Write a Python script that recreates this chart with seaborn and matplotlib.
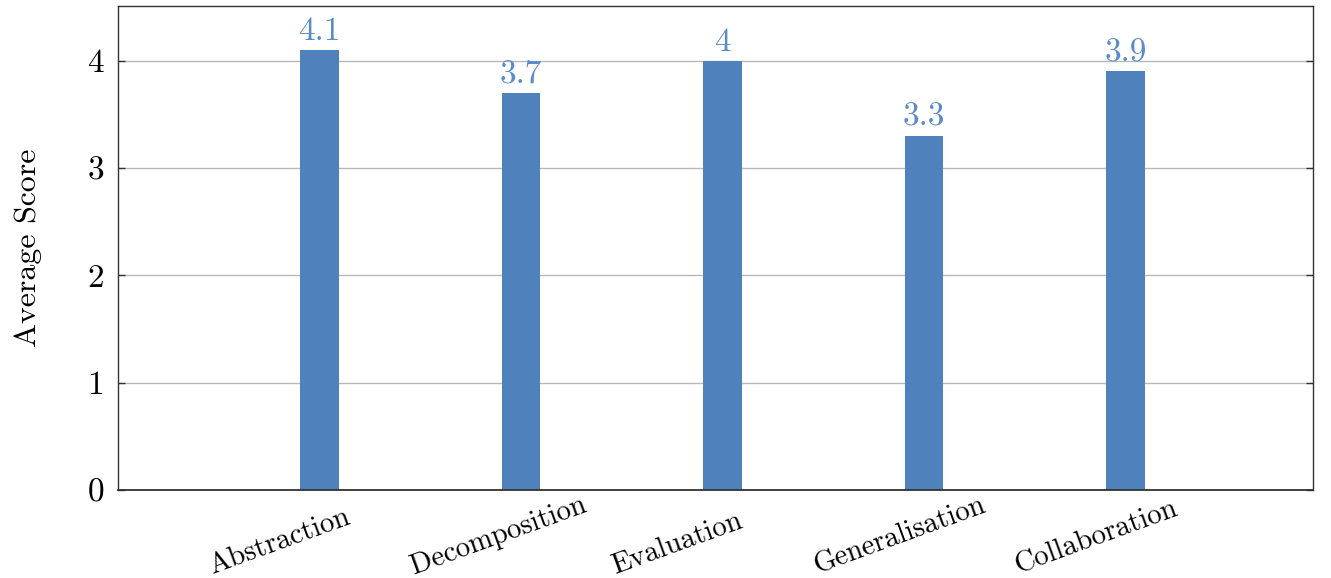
import matplotlib
matplotlib.use("Agg")
import matplotlib.pyplot as plt
import matplotlib.transforms as mtransforms
import pandas as pd
import seaborn as sns

# chart data
skills = ["Abstraction", "Decomposition", "Evaluation", "Generalisation", "Collaboration"]
scores = [4.1, 3.7, 4.0, 3.3, 3.9]
y_ticks = [0, 1, 2, 3, 4]

df = pd.DataFrame({"skill": skills, "score": scores})

sns.set_style("white")
plt.rcParams["font.family"] = "serif"
plt.rcParams["font.serif"] = ["cmr10", "DejaVu Serif"]
plt.rcParams["mathtext.fontset"] = "cm"
plt.rcParams["axes.formatter.use_mathtext"] = True
plt.rcParams["text.color"] = "black"
plt.rcParams["axes.labelcolor"] = "black"
plt.rcParams["xtick.color"] = "black"
plt.rcParams["ytick.color"] = "black"

bar_color = "#4f81bd"
label_color = "#5b8bc9"

fig = plt.figure(figsize=(13.31, 5.78), dpi=100)
ax = fig.add_axes([0.0887, 0.1522, 0.8978, 0.8374])

sns.barplot(data=df, x="skill", y="score", color=bar_color, width=0.19,
            saturation=1, linewidth=0, ax=ax)

ax.bar_label(ax.containers[0], labels=[f"{v:g}" for v in scores],
             padding=3, color=label_color, fontsize=24)

ax.set_xlim(-1.0, 4.93)
ax.set_ylim(0, 4.51)
ax.set_yticks(y_ticks)
ax.set_yticklabels([str(t) for t in y_ticks], fontsize=24)
ax.yaxis.grid(True, color="#b8b8b8", linewidth=1)
ax.set_axisbelow(True)
ax.tick_params(axis="y", direction="in", length=5, width=1, color="#333333",
               left=True, right=True, pad=10)
ax.tick_params(axis="x", length=0, pad=0)

ax.set_xlabel("")
ax.set_ylabel("Average Score", fontsize=23, labelpad=33)

# rotated category labels, left end of baseline placed below-left of the bar
offset = mtransforms.ScaledTranslation(-1.07, -0.84, fig.dpi_scale_trans)
for lab in ax.get_xticklabels():
    lab.set_rotation(20)
    lab.set_ha("left")
    lab.set_va("baseline")
    lab.set_rotation_mode("anchor")
    lab.set_fontsize(20.8)
    lab.set_transform(lab.get_transform() + offset)

for side in ["left", "right", "top", "bottom"]:
    ax.spines[side].set_visible(True)
    ax.spines[side].set_color("#333333")
    ax.spines[side].set_linewidth(1)
ax.spines["bottom"].set_linewidth(1.3)

fig.savefig("out.png", dpi=100)
